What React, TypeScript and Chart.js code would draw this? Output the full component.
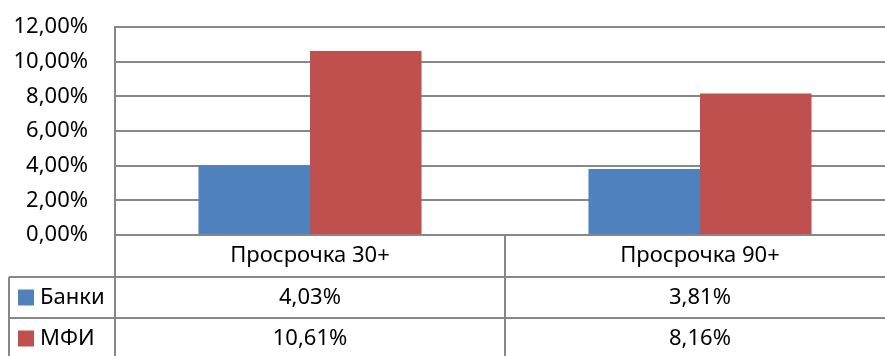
import React, { useEffect, useRef } from "react";
import { Chart, registerables } from "chart.js";

Chart.register(...registerables);

const categories = ["Просрочка 30+", "Просрочка 90+"];
const seriesNames = ["Банки", "МФИ"];
const banks = [4.03, 3.81];
const mfi = [10.61, 8.16];
const yTicks = [0, 2, 4, 6, 8, 10, 12];

const COLORS = ["#4F81BD", "#C0504D"];
const LINE = "#878787";
const FONT = "'Noto Sans', sans-serif";
const FS = 22;

const fmt = (v: number) => v.toFixed(2).replace(".", ",") + "%";

const tablePlugin = {
  id: "dataTable",
  afterDraw(chart: any) {
    const ctx = chart.ctx;
    const area = chart.chartArea;
    const x = chart.scales.x;
    const W = chart.width;
    const H = chart.height;
    const top = area.bottom;
    const row1 = top + 42;
    const row2 = row1 + 41;
    const row3 = row2 + 41;
    const leftEdge = 9;
    ctx.save();
    ctx.strokeStyle = LINE;
    ctx.lineWidth = 2;
    ctx.beginPath();
    ctx.moveTo(area.left, top);
    ctx.lineTo(W, top);
    ctx.moveTo(leftEdge, row1);
    ctx.lineTo(W, row1);
    ctx.moveTo(leftEdge, row2);
    ctx.lineTo(W, row2);
    ctx.moveTo(leftEdge, row3);
    ctx.lineTo(W, row3);
    ctx.moveTo(area.left, top);
    ctx.lineTo(area.left, H);
    ctx.moveTo(leftEdge, row1);
    ctx.lineTo(leftEdge, H);
    for (let i = 1; i < categories.length; i++) {
      const bx = (x.getPixelForValue(i - 1) + x.getPixelForValue(i)) / 2;
      ctx.moveTo(bx, top);
      ctx.lineTo(bx, H);
    }
    ctx.stroke();

    ctx.fillStyle = "#000";
    ctx.font = `${FS}px ${FONT}`;
    ctx.textAlign = "center";
    ctx.textBaseline = "middle";
    categories.forEach((c, i) => {
      ctx.fillText(c, x.getPixelForValue(i), (top + row1) / 2);
    });
    const rows = [banks, mfi];
    const rowTops = [row1, row2];
    rows.forEach((vals, r) => {
      const cy = rowTops[r] + 20.5;
      vals.forEach((v, i) => {
        ctx.textAlign = "center";
        ctx.fillStyle = "#000";
        ctx.fillText(fmt(v), x.getPixelForValue(i), cy);
      });
      ctx.fillStyle = COLORS[r];
      ctx.fillRect(18, cy - 8, 16, 16);
      ctx.fillStyle = "#000";
      ctx.textAlign = "left";
      ctx.fillText(seriesNames[r], 40, cy);
    });
    ctx.restore();
  },
};

export default function App() {
  const ref = useRef<HTMLCanvasElement>(null);
  useEffect(() => {
    if (!ref.current) return;
    const chart = new Chart(ref.current, {
      type: "bar",
      data: {
        labels: categories,
        datasets: [
          { label: seriesNames[0], data: banks, backgroundColor: COLORS[0] },
          { label: seriesNames[1], data: mfi, backgroundColor: COLORS[1] },
        ],
      },
      options: {
        animation: false,
        responsive: false,
        devicePixelRatio: 1,
        layout: { padding: { top: 27, left: 0, right: 0, bottom: 0 } },
        plugins: { legend: { display: false }, tooltip: { enabled: false } },
        datasets: { bar: { categoryPercentage: 0.572, barPercentage: 1 } },
        scales: {
          x: {
            ticks: { display: false },
            grid: { display: false },
            border: { display: false },
            afterFit: (s: any) => {
              s.height = 121;
            },
          },
          y: {
            min: yTicks[0],
            max: yTicks[yTicks.length - 1],
            afterBuildTicks: (s: any) => {
              s.ticks = yTicks.map((v) => ({ value: v }));
            },
            ticks: {
              padding: 27,
              color: "#000",
              font: { family: FONT, size: FS },
              callback: (v: any) => fmt(Number(v)),
            },
            grid: { color: LINE, lineWidth: 2, drawTicks: false },
            border: { display: true, color: LINE, width: 2 },
            afterFit: (s: any) => {
              s.width = 115;
              s.paddingTop = 0;
              s.paddingBottom = 0;
            },
          },
        },
      },
      plugins: [tablePlugin],
    });
    return () => chart.destroy();
  }, []);
  return (
    <div style={{ position: "fixed", left: 0, top: 0, width: 885, height: 356, overflow: "hidden", background: "#fff" }}>
      <canvas ref={ref} width={895} height={356} />
    </div>
  );
}
